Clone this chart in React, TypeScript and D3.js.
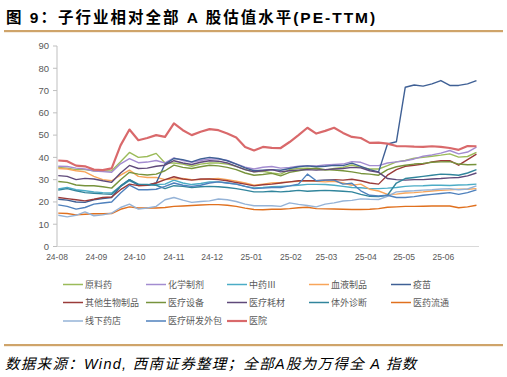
import React from "react";
import * as d3 from "d3";

const dates = [
  "2024-08-02","2024-08-09","2024-08-16","2024-08-23","2024-08-30",
  "2024-09-06","2024-09-13","2024-09-20","2024-09-27",
  "2024-10-04","2024-10-11","2024-10-18","2024-10-25",
  "2024-11-01","2024-11-08","2024-11-15","2024-11-22","2024-11-29",
  "2024-12-06","2024-12-13","2024-12-20","2024-12-27",
  "2025-01-03","2025-01-10","2025-01-17","2025-01-24","2025-01-31",
  "2025-02-07","2025-02-14","2025-02-21","2025-02-28",
  "2025-03-07","2025-03-14","2025-03-21","2025-03-28",
  "2025-04-04","2025-04-11","2025-04-18","2025-04-25",
  "2025-05-02","2025-05-09","2025-05-16","2025-05-23","2025-05-30",
  "2025-06-06","2025-06-13","2025-06-20","2025-06-27",
];

const xTickLabels = ["24-08","24-09","24-10","24-11","24-12","25-01","25-02","25-03","25-04","25-05","25-06"];
const xTickDates = ["2024-08-01","2024-09-01","2024-10-01","2024-11-01","2024-12-01","2025-01-01","2025-02-01","2025-03-01","2025-04-01","2025-05-01","2025-06-01"];
const yTicks = [0, 10, 20, 30, 40, 50, 60, 70, 80, 90];

const seriesNames = ["原料药","化学制剂","中药Ⅲ","血液制品","疫苗","其他生物制品","医疗设备","医疗耗材","体外诊断","医药流通","线下药店","医疗研发外包","医院"];
const seriesColors = ["#9BBB59","#A38CD0","#4BACC6","#F8A55A","#3F6095","#9A3B39","#77933C","#5F497A","#31859C","#E0701E","#95B3D7","#4F81BD","#D9696B"];

const yuanliaoyao = [35.5,35.2,34.5,34.5,34,33.8,34,38,42.2,40,40.4,41.8,37.5,
  37.5,37,36,37,37.5,37.5,37,36,34.5,33.5,33.8,33,
  32.5,34.5,35,35.2,34.8,34.3,35,35.5,36.6,35.5,34.8,
  34.8,36.3,38,38.6,39.6,40,40.5,41,41.6,40.1,40.4,42.3];
const huaxuezhiji = [36,35.9,35.2,34.8,33.9,33.6,33.3,37.1,39.4,37.6,37.9,38.6,37.5,
  39.8,38.6,37.8,38.6,39.3,39.3,38.6,37.1,35.6,34.8,35.6,35.9,
  35.2,35.5,36,36.3,36.2,36.6,36.8,37,38.1,37.8,36.3,
  36.3,37.5,38,38.5,39.3,40.5,41.1,41.9,43.1,41.6,42.4,44.6];
const zhongyao = [25.8,26.5,25.5,25,24.5,24.2,24,27,29.5,27.8,27.5,27.8,28,
  29.8,28.5,27.8,28.3,29,29,28.5,28,27,26.3,26.5,26.8,
  27,27.2,27.5,27.9,27.9,27.8,27.5,27,26.5,26.4,26,
  26,26.2,26.5,27,27.2,27.3,27.5,27.5,27.4,27.6,27.7,28];
const xueye = [35,34.8,34,33.5,31.5,30,29.5,32,34.3,31.5,31,31,30,
  30.3,30.5,30,30,30.3,30.5,30,29.3,28.5,27.5,28,28.5,
  28.7,29,29.3,29.5,29.3,29,29.3,28.5,27.5,28,25.7,
  24.9,23.4,23.5,24,24.2,24.5,24.9,25.2,25.4,25.7,25.7,26];
const yimiao = [21.2,20.8,20,19.8,21,21.5,22,27,30,27.5,27.5,28.5,37,
  39.5,39,38,39.3,40,39.5,38.5,37,35.3,34,34.3,34.5,
  34.2,35,35.8,36.2,35.8,36,36.4,36.3,37.4,36,34.5,
  33.5,46,47,71.5,72.5,72,73,74.5,72.3,72.3,73,74.5];
const qitashengwu = [22,21.5,21,20.5,21.2,22,22.2,25.5,28,27.3,27.5,28.5,30,
  31.3,30.3,29.8,30.3,30.3,30,29.5,28.7,28,27.2,27.7,28,
  28.5,29,29.5,29.5,29.5,29.8,30,29.8,30.2,29.5,28.5,
  28,32,34.5,36,36.5,37,38,38.5,38.5,36.5,39,41.5];
const yiliaoshebei = [29.2,28.8,27.6,27.3,27.3,26.8,26.2,30,33.3,32.5,32.1,32.5,34,
  36.5,35.5,35,35.8,36.5,36.2,35.5,34.5,33,32,32.3,32.8,
  31.7,33.3,34,34.8,35.1,34.5,34.3,34,33.5,32.8,32.5,
  32,34.5,35.8,36.5,37,37.3,37.8,38,38.1,37,36.7,36.8];
const yiliaohaocai = [31.8,31.5,30,30.6,30.3,29.5,28.8,33,36.4,35,35.2,36,36.5,
  38.5,37.5,36.8,37.8,38.5,38.3,37.5,36,34.5,33.5,34,34.5,
  33.5,34,34.3,34.5,34.3,34.5,34.8,35,35.5,35.3,34,
  33.3,30.5,30,29.8,30,30,30.3,30.5,30.8,31,31.7,33];
const tiwaizhenduan = [25.3,26,25,24.2,23.9,23.6,23.4,27.2,30,28,27.8,27.5,26,
  27.3,27,26.5,26.8,27,26.8,26.5,26,25.3,24.5,24.5,24.8,
  24.5,24.8,25.2,24.8,25,25.2,25,24.8,24.5,23.4,22.5,
  22.4,23,28.5,30.5,31,31.5,32,32.5,32.3,32,33,34.5];
const yiyaoliutong = [15,14.8,14.2,14.5,14.7,14.7,14.8,16.7,17.8,17.3,17.3,17.3,17.5,
  18,18.2,18.4,18.6,18.8,18.8,18.5,18,17.2,16.6,16.5,16.7,
  16.7,17,17.4,17.6,17,16.9,16.8,16.7,16.6,16.6,16.7,
  17,17.6,17.8,18,18,18.1,18.2,18.2,18.2,17.4,17.8,18.5];
const xianxiayaodian = [14,13.3,14,15.5,13.8,14.2,15,17.5,19,16.8,17.3,18,21,
  22,20.8,19.8,20.2,20.5,21.3,21,20.2,19,18.3,18.3,18.3,
  18,19.6,18.9,18.4,17.8,19,19.6,20.4,20.7,21.4,21.2,
  21.1,22.5,24.5,24.8,25,25.3,25.5,25.8,26,25.5,25.8,27.2];
const yanfawaibao = [18.7,18,16.8,17.5,19,19.5,20,24,27.5,25.5,25.5,25.7,27,
  28.5,27.5,27,27.5,28.5,29,28.5,28,27,26,26.2,26.5,
  26.5,27.2,28,32.5,29.5,29.8,29.8,28,28.4,25,23,
  22.7,23,22,22,22.4,23,23.4,23.8,24.2,23.4,24.2,25.4];
const yiyuan = [38.6,38.3,36.3,36,34.5,34.3,35.1,45.4,52.5,47.7,48.7,50,49.2,
  55.3,52.2,50,51.5,52.7,52.2,50.7,48.9,44.7,43.1,44.7,44.3,
  44.2,46.9,50,53.3,50.7,51.9,53.3,51,49.2,48.7,46.5,
  46.6,46.2,45.1,45,44.8,44.7,45,44.7,44.2,43.4,45.1,45];

const seriesValues = [yuanliaoyao, huaxuezhiji, zhongyao, xueye, yimiao, qitashengwu, yiliaoshebei, yiliaohaocai, tiwaizhenduan, yiyaoliutong, xianxiayaodian, yanfawaibao, yiyuan];

const W = 507;
const H = 377;
const LATIN = "'Liberation Sans', Arial, 'Noto Sans CJK SC', sans-serif";
const CJK = "'Liberation Sans', 'Noto Sans CJK SC', sans-serif";

export default function App() {
  const parse = d3.timeParse("%Y-%m-%d");
  const dts = dates.map((d) => parse(d) as Date);
  const x = d3.scaleTime()
    .domain([parse("2024-08-01") as Date, parse("2025-06-29") as Date])
    .range([57, 479]);
  const y = d3.scaleLinear().domain([0, 90]).range([246.5, 46]);

  const line = d3.line<number>()
    .x((_, i) => x(dts[i]))
    .y((v) => y(v));

  const legendCols = [63, 146, 227, 309, 391];
  const legendRows = [284.5, 302.5, 321];

  return (
    <svg width={W} height={H} style={{ position: "absolute", left: 0, top: 0, background: "#fff" }}>
      <rect x={0} y={0} width={W} height={H} fill="#fff" />
      <text x={6} y={23} fontFamily={CJK} fontWeight="bold" fontSize={15.5} letterSpacing={2.0} fill="#000">
        图 9：子行业相对全部 A 股估值水平(PE-TTM)
      </text>
      <rect x={4} y={30} width={499} height={2.2} fill="#CFA46A" />

      {/* y axis */}
      <line x1={57} x2={57} y1={y(90)} y2={y(0)} stroke="#BFBFBF" strokeWidth={1} />
      {yTicks.map((t) => (
        <g key={t}>
          <line x1={53} x2={57} y1={y(t)} y2={y(t)} stroke="#BFBFBF" strokeWidth={1} />
          <text x={49} y={y(t)} dy="0.35em" textAnchor="end" fontFamily={LATIN} fontSize={9.5} fill="#595959">
            {t}
          </text>
        </g>
      ))}
      {/* x axis */}
      <line x1={57} x2={479} y1={y(0)} y2={y(0)} stroke="#D9D9D9" strokeWidth={1} />
      {xTickLabels.map((lab, i) => (
        <text key={lab} x={x(parse(xTickDates[i]) as Date)} y={260} textAnchor="middle" fontFamily={LATIN} fontSize={8.5} fill="#595959">
          {lab}
        </text>
      ))}

      {/* lines */}
      {seriesValues.map((vals, si) => (
        <path
          key={seriesNames[si]}
          d={line(vals) || ""}
          fill="none"
          stroke={seriesColors[si]}
          strokeWidth={si === 12 ? 2.2 : 1.4}
          strokeLinejoin="round"
        />
      ))}

      {/* legend */}
      {seriesNames.map((name, i) => {
        const cx = legendCols[i % 5];
        const cy = legendRows[Math.floor(i / 5)];
        return (
          <g key={name}>
            <line x1={cx} x2={cx + 20} y1={cy} y2={cy} stroke={seriesColors[i]} strokeWidth={i === 12 ? 2.2 : 1.5} />
            <text x={cx + 22} y={cy} dy="0.35em" fontFamily={CJK} fontSize={9} fill="#595959">
              {name}
            </text>
          </g>
        );
      })}

      <rect x={4} y={344} width={499} height={2.2} fill="#CFA46A" />
      <text x={5} y={369} fontFamily={CJK} fontStyle="italic" fontSize={14.5} letterSpacing={1.3} fill="#000">
        数据来源：Wind,  西南证券整理；全部A股为万得全 A 指数
      </text>
    </svg>
  );
}
